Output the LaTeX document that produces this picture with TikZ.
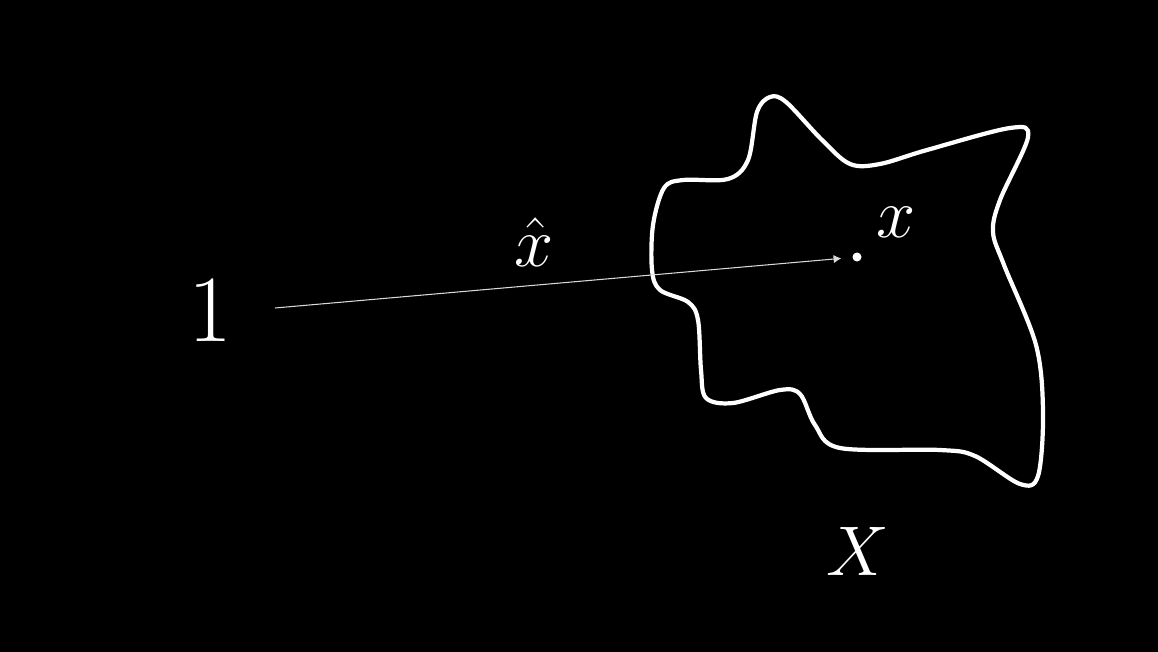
\documentclass[tikz,border=0pt]{standalone}
\usepackage{fix-cm}
\usetikzlibrary{arrows.meta}

\begin{document}
\begin{tikzpicture}[x=0.01cm, y=-0.01cm, every node/.style={text=white, font=\fontsize{20}{24}\selectfont}]
	% 1. 背景与边界
	\fill[black] (0,0) rectangle (1158,652);
	\useasboundingbox (0,0) rectangle (1158,652);

	% 2. 集合 X 的边界曲线
	\draw[white, line width=1.2pt, line join=round] plot[smooth cycle, tension=0.55] coordinates {
		(770,97) (786,102) (822,140) (850,164) (880,164) (927,150) (1010,128) (1028,137)
		(1000,200) (993,232) (1004,265) (1036,345) (1043,413) (1038,476) (1020,484) (975,456)
		(940,450) (840,448) (815,425) (800,394) (780,390) (733,403) (706,398) (701,370)
		(698,320) (688,302) (660,290) (652,270) (653,225) (664,188) (683,180) (728,179)
		(748,160) (757,112)};

	% 3. 点与标号
	\node[circle, fill=white, inner sep=0pt, minimum size=0.09cm] (pt) at (857,257) {};
	\node (xlab) at (896,222) {$x$};
	\node[font=\fontsize{27}{32}\selectfont] (one) at (210,311) {$1$};
	\node (xhat) at (534,242) {$\hat{x}$};
	\node (set) at (858,551) {$X$};

	% 4. 箭头 (从 1 指向 x)
	\coordinate (start) at (275,308);
	\draw[white!85!black, line width=0.3pt, -{Latex[length=2.2pt, width=2.4pt]}, shorten >=3pt] (start) -- (pt);
\end{tikzpicture}
\end{document}
